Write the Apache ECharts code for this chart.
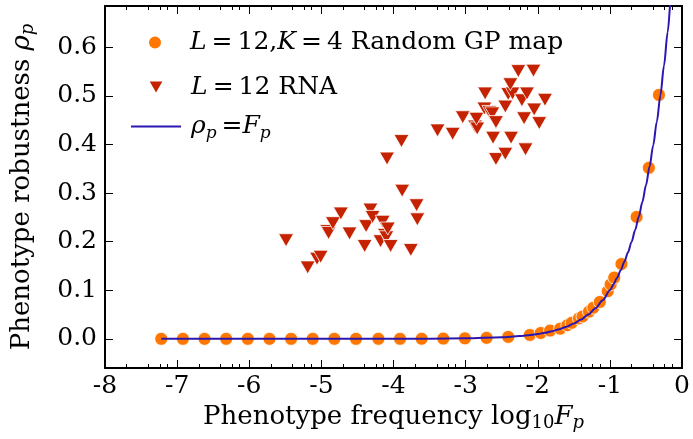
<!DOCTYPE html>
<html>
<head>
<meta charset="utf-8">
<script src="https://cdn.jsdelivr.net/npm/echarts@6/dist/echarts.min.js"></script>
<style>
  html, body { margin: 0; padding: 0; background: #ffffff; }
  #chart { width: 693px; height: 439px; }
</style>
</head>
<body>
<div id="chart"></div>
<script>
// L = 12, K = 4 random GP map: log10 phenotype frequency and robustness
const gpLogF = [-7.22, -6.92, -6.62, -6.32, -6.02, -5.72, -5.42, -5.12, -4.82, -4.52,
                -4.21, -3.91, -3.61, -3.31, -3.01, -2.71, -2.41, -2.11,
                -1.96, -1.83, -1.69, -1.59, -1.53, -1.43, -1.38, -1.29, -1.23, -1.14,
                -1.03, -0.99, -0.94, -0.84, -0.63, -0.46, -0.32];
const gpRho  = [0.0, 0.0, 0.0, 0.0, 0.0, 0.0, 0.0, 0.0, 0.0, 0.0,
                0.0001, 0.0001, 0.0002, 0.0005, 0.001, 0.002, 0.004, 0.008,
                0.012, 0.017, 0.021, 0.028, 0.033, 0.042, 0.046, 0.056, 0.064, 0.076,
                0.098, 0.112, 0.126, 0.154, 0.251, 0.352, 0.502];

// L = 12 RNA phenotypes
const rnaLogF = [-5.49, -5.19, -5.06, -5.01, -4.92, -4.90, -4.84, -4.73, -4.61, -4.40,
                 -4.38, -4.32, -4.29, -4.18, -4.15, -4.12, -4.10, -4.08, -4.04, -4.09,
                 -3.89, -3.88, -3.76, -3.68, -3.67, -3.39, -3.18, -3.04, -2.87, -2.84,
                 -2.85, -2.74, -2.73, -2.67, -2.63, -2.62, -2.58, -2.58, -2.45, -2.45,
                 -2.41, -2.35, -2.38, -2.37, -2.27, -2.22, -2.19, -2.17, -2.15, -2.06,
                 -2.05, -1.98, -1.90];
const rnaRho  = [0.203, 0.147, 0.165, 0.169, 0.222, 0.218, 0.238, 0.258, 0.217, 0.191,
                 0.232, 0.266, 0.251, 0.201, 0.241, 0.214, 0.209, 0.227, 0.191, 0.371,
                 0.407, 0.305, 0.183, 0.275, 0.246, 0.429, 0.422, 0.456, 0.437, 0.433,
                 0.453, 0.474, 0.505, 0.467, 0.464, 0.414, 0.446, 0.370, 0.478, 0.381,
                 0.504, 0.505, 0.524, 0.414, 0.551, 0.491, 0.454, 0.390, 0.505, 0.552,
                 0.472, 0.444, 0.492];

// Reference curve rho_p = F_p, sampled in log10 F_p
const curveLogF = [-7.22, -5.0, -4.0, -3.5, -3.0, -2.5, -2.25, -2.1, -2.0, -1.9, -1.8, -1.7,
                   -1.6, -1.5, -1.4, -1.3, -1.2, -1.1, -1.0, -0.95, -0.9, -0.85, -0.8,
                   -0.75, -0.7, -0.65, -0.6, -0.55, -0.5, -0.45, -0.4, -0.35, -0.3,
                   -0.25, -0.2, -0.15, -0.1];
const curveRho  = [0.00000006, 0.00001, 0.0001, 0.000316, 0.001, 0.00316, 0.00562, 0.00794,
                   0.01, 0.01259, 0.01585, 0.01995, 0.02512, 0.03162, 0.03981, 0.05012,
                   0.06310, 0.07943, 0.1, 0.11220, 0.12589, 0.14125, 0.15849, 0.17783,
                   0.19953, 0.22387, 0.25119, 0.28184, 0.31623, 0.35481, 0.39811, 0.44668,
                   0.50119, 0.56234, 0.63096, 0.70795, 0.79433];

// Axis ticks
const yTickValues = [0.0, 0.1, 0.2, 0.3, 0.4, 0.5, 0.6];
const xMinorTicks = [-7.7, -7.4, -7.24, -7.14, -6.7, -6.4, -6.24, -6.14, -5.7, -5.4, -5.24, -5.14,
                     -4.7, -4.4, -4.24, -4.14, -3.7, -3.4, -3.24, -3.14, -2.7, -2.4, -2.24, -2.14,
                     -1.7, -1.4, -1.24, -1.14, -0.7, -0.4, -0.24, -0.14];

const zip = (a, b) => a.map((v, i) => [v, b[i]]);

const SERIF = 'DejaVu Serif';
function richSet(size, sub, lh) {
  return {
    t: { fontFamily: SERIF, fontSize: size, color: '#000', lineHeight: lh, verticalAlign: 'middle' },
    i: { fontFamily: SERIF, fontStyle: 'italic', fontSize: size, color: '#000', lineHeight: lh, verticalAlign: 'middle' },
    s: { fontFamily: SERIF, fontStyle: 'italic', fontSize: sub, color: '#000', lineHeight: sub, verticalAlign: 'bottom' },
    n: { fontFamily: SERIF, fontSize: sub, color: '#000', lineHeight: sub, verticalAlign: 'bottom' }
  };
}
const axisRich = richSet(26, 18, 30);
const legendRich = richSet(25, 17, 32);

const X_MIN = -8, X_MAX = 0, Y_MIN = -0.06, Y_MAX = 0.685;
const frame = { show: true, onZero: false, lineStyle: { color: '#000', width: 2 } };
const hiddenLine = { show: false, onZero: false };
const majorTick = { show: true, inside: true, length: 8, lineStyle: { color: '#000', width: 1 } };
const minorTick = { show: true, inside: true, length: 4, customValues: xMinorTicks, lineStyle: { color: '#000', width: 1 } };

const TRI_DOWN = 'path://M0,0L16,0L8,13.9Z';
const THIN = '\u2009';

const legendBase = {
  orient: 'vertical', padding: 0, itemWidth: 50, itemHeight: 14,
  textStyle: { fontFamily: SERIF, fontSize: 25, color: '#000', rich: legendRich },
  selectedMode: false
};

const chart = echarts.init(document.getElementById('chart'), null, { renderer: 'canvas' });
chart.setOption({
  animation: false,
  backgroundColor: '#ffffff',
  grid: { left: 105, right: 7, top: 6, bottom: 71, containLabel: false },
  legend: [
    Object.assign({}, legendBase, { left: 147, top: 30, data: ['gp'],
      formatter: () => '{t|' + THIN + '}{i|L}{t|' + THIN + '=' + THIN + '12,}{i|K}{t|' + THIN + '=' + THIN + '4 Random GP map}' }),
    Object.assign({}, legendBase, { left: 147, top: 75, data: ['rna'],
      formatter: () => '{t|' + THIN + '}{i|L}{t|' + THIN + '=' + THIN + '12 RNA}' }),
    Object.assign({}, legendBase, { left: 130, top: 114, data: ['curve'],
      itemStyle: { color: 'rgba(0,0,0,0)', borderColor: 'rgba(0,0,0,0)', borderWidth: 0, opacity: 0 },
      formatter: () => '{t|' + THIN + '}{i|ρ}{s|p}{t|' + THIN + '=}{i|F}{s|p}' })
  ],
  xAxis: [
    {
      type: 'value', position: 'bottom', min: X_MIN, max: X_MAX, interval: 1,
      axisLine: frame, axisTick: majorTick, splitLine: { show: false },
      axisLabel: { fontFamily: SERIF, fontSize: 25, color: '#000', margin: 6 },
      name: '{t|Phenotype frequency }{t|log}{n|10}{i|F}{s|p}',
      nameLocation: 'middle', nameGap: 30,
      nameTextStyle: { rich: axisRich }
    },
    {
      type: 'value', position: 'top', min: X_MIN, max: X_MAX, interval: 1,
      axisLine: frame, axisTick: majorTick, axisLabel: { show: false }, splitLine: { show: false }
    },
    {
      type: 'value', position: 'bottom', min: X_MIN, max: X_MAX, interval: 1,
      axisLine: hiddenLine, axisTick: minorTick, axisLabel: { show: false }, splitLine: { show: false }
    },
    {
      type: 'value', position: 'top', min: X_MIN, max: X_MAX, interval: 1,
      axisLine: hiddenLine, axisTick: minorTick, axisLabel: { show: false }, splitLine: { show: false }
    }
  ],
  yAxis: [
    {
      type: 'value', position: 'left', min: Y_MIN, max: Y_MAX,
      axisLine: frame,
      axisTick: Object.assign({}, majorTick, { customValues: yTickValues }),
      axisLabel: { customValues: yTickValues, fontFamily: SERIF, fontSize: 25, color: '#000', margin: 8,
                   formatter: v => v.toFixed(1) },
      splitLine: { show: false },
      name: '{t|Phenotype robustness }{i|ρ}{s|p}',
      nameLocation: 'middle', nameGap: 68, nameRotate: 90,
      nameTextStyle: { rich: axisRich }
    },
    {
      type: 'value', position: 'right', min: Y_MIN, max: Y_MAX,
      axisLine: frame,
      axisTick: Object.assign({}, majorTick, { customValues: yTickValues }),
      axisLabel: { show: false }, splitLine: { show: false }
    }
  ],
  series: [
    {
      name: 'rna', type: 'scatter', xAxisIndex: 0, yAxisIndex: 0,
      symbol: TRI_DOWN, symbolSize: [15, 13],
      itemStyle: { color: '#c42200', borderColor: '#ffffff', borderWidth: 0.8, opacity: 1 },
      data: zip(rnaLogF, rnaRho)
    },
    {
      name: 'gp', type: 'scatter', xAxisIndex: 0, yAxisIndex: 0,
      symbol: 'circle', symbolSize: 13,
      itemStyle: { color: '#ff7700', borderColor: '#ffffff', borderWidth: 0.8, opacity: 1 },
      data: zip(gpLogF, gpRho)
    },
    {
      name: 'curve', type: 'line', xAxisIndex: 0, yAxisIndex: 0,
      symbol: 'none', smooth: 0.3, smoothMonotone: 'x', clip: true,
      lineStyle: { color: '#2a17b1', width: 2 },
      itemStyle: { color: '#2a17b1' },
      data: zip(curveLogF, curveRho)
    }
  ]
});
</script>
</body>
</html>
